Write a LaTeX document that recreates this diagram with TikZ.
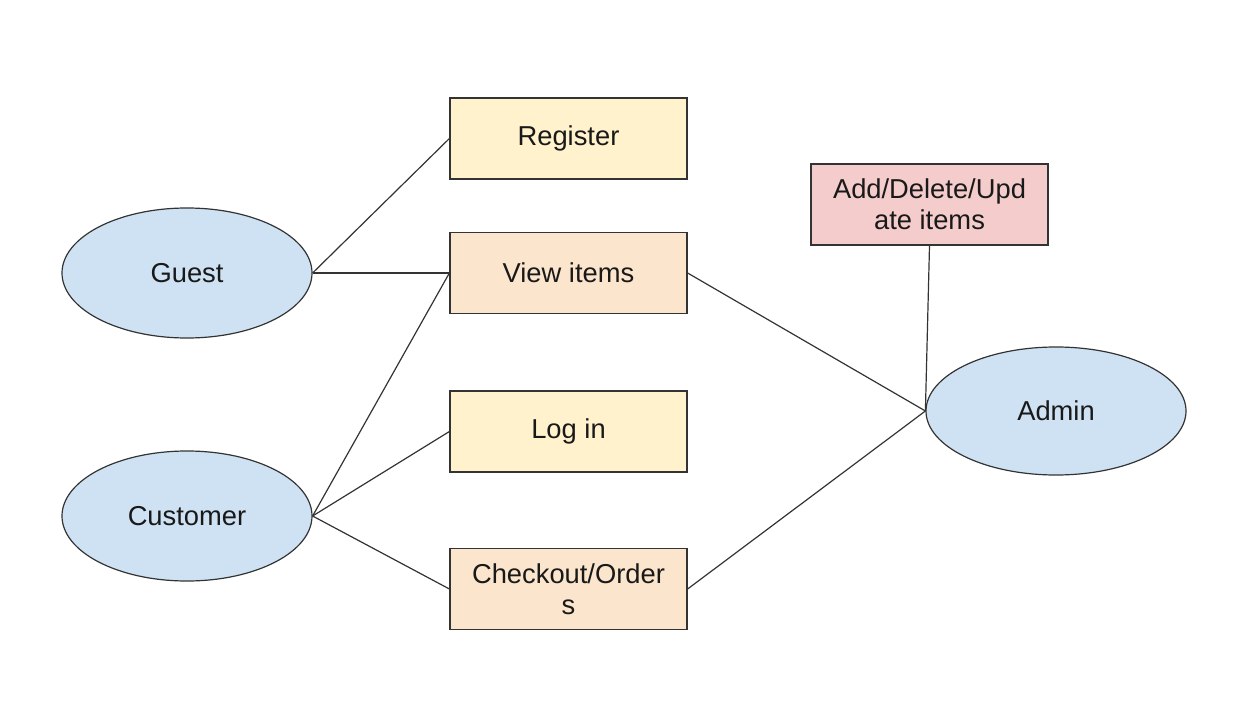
\documentclass[tikz,border=0pt]{standalone}
\usepackage{fontspec}
\setmainfont{Liberation Sans}
\usetikzlibrary{shapes.geometric}
\definecolor{ylw}{HTML}{FFF2CC}
\definecolor{org}{HTML}{FCE5CD}
\definecolor{rd}{HTML}{F4CCCC}
\definecolor{blu}{HTML}{CFE2F3}
\definecolor{edge}{HTML}{333333}
\begin{document}
\begin{tikzpicture}[x=0.75pt,y=-0.75pt,
  every node/.style={font=\fontsize{20.5}{23.5}\selectfont, text=black!90},
  usecase/.style={draw=edge, line width=0.9pt, rectangle, minimum width=177.75pt, minimum height=60.75pt, align=center, inner sep=0pt},
  actor/.style={draw=edge, line width=0.9pt, ellipse, fill=blu, inner sep=0pt},
  link/.style={draw=edge, line width=0.9pt}]
\useasboundingbox (0,0) rectangle (1234,716);
\node[usecase, fill=ylw] (reg) at (568.5,138.5) {Register};
\node[usecase, fill=org] (view) at (568.5,273) {View items};
\node[usecase, fill=ylw] (login) at (568.5,431.5) {Log in};
\node[usecase, fill=org] (check) at (568.5,589) {Checkout/Order\\s};
\node[usecase, fill=rd] (add) at (929.5,204.5) {Add/Delete/Upd\\ate items};
\node[actor, minimum width=187.5pt, minimum height=97.5pt] (guest) at (187,273) {Guest};
\node[actor, minimum width=187.5pt, minimum height=97.5pt] (cust) at (187,516) {Customer};
\node[actor, minimum width=195pt, minimum height=96pt] (admin) at (1056,411) {Admin};
\draw[link] (guest.east) -- (reg.west);
\draw[link] (guest.east) -- (view.west);
\draw[link] (cust.east) -- (view.west);
\draw[link] (cust.east) -- (login.west);
\draw[link] (cust.east) -- (check.west);
\draw[link] (view.east) -- (admin.west);
\draw[link] (check.east) -- (admin.west);
\draw[link] (add.south) -- (admin.west);
\end{tikzpicture}
\end{document}
